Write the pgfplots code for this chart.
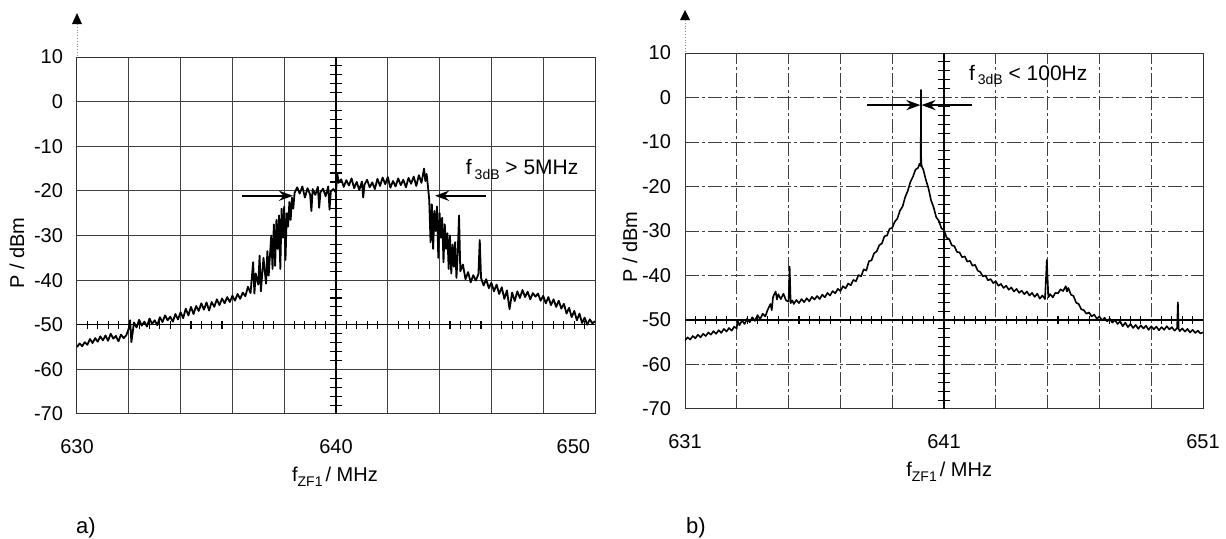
\documentclass[border=0pt]{standalone}
\usepackage{fontspec}
\setmainfont{Liberation Sans}
\usepackage{pgfplots}
\pgfplotsset{compat=1.18}
\usetikzlibrary{arrows.meta}
\pgfplotsset{
  myax/.style={
    scale only axis, width=259pt,
    ymin=-70, ymax=10,
    ytick={-70,-60,...,10},
    yticklabels={-70,-60,-50,-40,-30,-20,-10,0,10},
    axis line style={black!80, line width=0.5pt},
    major tick length=0pt, minor tick length=0pt,
    tick style={draw=none},
    grid=both,
    major grid style={black!75, line width=0.5pt},
    minor grid style={black!75, line width=0.5pt},
    tick label style={font=\fontsize{10}{12}\selectfont},
    xticklabel style={yshift=-9pt},
    yticklabel style={xshift=-3.5pt},
    label style={font=\fontsize{10}{12}\selectfont},
  },
  htick/.style={only marks, mark=-, mark size=3pt, mark options={black, line width=0.55pt}},
  vtick/.style={only marks, mark=|, mark size=2pt, mark options={black, line width=0.55pt}},
}
\newcommand{\sub}[1]{\raisebox{-2.3pt}{\fontsize{7}{8}\selectfont #1}}
\begin{document}
\begin{tikzpicture}
\useasboundingbox (0,0) rectangle (613pt,-269pt);
% ---------------- a) ----------------
\begin{axis}[myax, at={(38.5pt,-28.5pt)}, anchor=north west, height=178.5pt,
  xmin=630, xmax=650,
  xtick={630,640,650},
  xticklabels={630,640,{\llap{650\hspace{2.5pt}}}},
  minor xtick={630,632,...,650},
  xlabel={f\sub{ZF1}\kern1.5pt/ MHz},
  xlabel style={at={(axis description cs:0.498,0)}, anchor=base, yshift=-34pt},
  ylabel={P / dBm},
  ylabel style={at={(axis description cs:-0.1158,0.451)}, anchor=center},
]
\draw[black, line width=0.55pt] (axis cs:640,-70) -- (axis cs:640,10);
\draw[black, line width=0.55pt] (axis cs:630,-50) -- (axis cs:650,-50);
\addplot[htick] coordinates {
(640,-68) (640,-66) (640,-64) (640,-62) (640,-58) (640,-56) (640,-54) (640,-52) (640,-48) (640,-46) (640,-44) (640,-42)
(640,-38) (640,-36) (640,-34) (640,-32) (640,-28) (640,-26) (640,-24) (640,-22) (640,-18) (640,-16) (640,-14) (640,-12)
(640,-8) (640,-6) (640,-4) (640,-2) (640,2) (640,4) (640,6) (640,8)
};
\addplot[vtick] coordinates {
(630.4,-50) (630.8,-50) (631.2,-50) (631.6,-50) (632.4,-50) (632.8,-50) (633.2,-50) (633.6,-50)
(634.4,-50) (634.8,-50) (635.2,-50) (635.6,-50) (636.4,-50) (636.8,-50) (637.2,-50) (637.6,-50)
(638.4,-50) (638.8,-50) (639.2,-50) (639.6,-50) (640.4,-50) (640.8,-50) (641.2,-50) (641.6,-50)
(642.4,-50) (642.8,-50) (643.2,-50) (643.6,-50) (644.4,-50) (644.8,-50) (645.2,-50) (645.6,-50)
(646.4,-50) (646.8,-50) (647.2,-50) (647.6,-50) (648.4,-50) (648.8,-50) (649.2,-50) (649.6,-50)
};
\addplot[black, line width=0.9pt, line join=round] coordinates {
(630.0,-55.0) (630.1,-54.2) (630.2,-54.8) (630.3,-53.9) (630.4,-54.5) (630.5,-53.2) (630.6,-54.1) (630.7,-53.0) (630.8,-53.8) (630.9,-52.6)
(631.0,-53.5) (631.1,-52.4) (631.2,-53.6) (631.3,-52.0) (631.4,-53.1) (631.5,-52.5) (631.6,-53.7) (631.7,-52.2) (631.8,-53.0) (631.9,-52.4)
(632.0,-50.8) (632.05,-49.0) (632.1,-53.9) (632.2,-49.5) (632.3,-50.6) (632.4,-48.9) (632.5,-50.2) (632.6,-49.3) (632.7,-50.4) (632.8,-48.6)
(632.9,-49.8) (633.0,-49.0) (633.1,-50.1) (633.2,-48.3) (633.3,-49.4) (633.4,-47.9) (633.5,-49.0) (633.6,-48.2) (633.7,-49.3) (633.8,-47.6)
(633.9,-48.8) (634.0,-47.2) (634.1,-48.5) (634.2,-46.4) (634.3,-47.9) (634.4,-46.0) (634.5,-47.6) (634.6,-45.8) (634.7,-46.9) (634.8,-45.2)
(634.9,-46.6) (635.0,-45.0) (635.1,-46.8) (635.2,-44.9) (635.3,-46.0) (635.4,-44.3) (635.5,-45.6) (635.6,-44.1) (635.7,-45.2) (635.8,-43.8)
(635.9,-44.9) (636.0,-43.5) (636.1,-44.6) (636.2,-43.1) (636.3,-44.2) (636.4,-42.8) (636.5,-43.6) (636.6,-41.5) (636.7,-42.9) (636.8,-36.0)
(636.85,-43.0) (636.9,-38.5) (637.0,-41.0) (637.05,-34.5) (637.1,-42.5) (637.2,-35.0) (637.3,-40.8) (637.35,-33.5) (637.4,-39.0) (637.5,-30.0)
(637.55,-37.5) (637.6,-27.5) (637.65,-36.8) (637.7,-26.5) (637.75,-33.0) (637.8,-25.5) (637.85,-37.5) (637.9,-24.0) (637.95,-30.5) (638.0,-23.5)
(638.05,-35.5) (638.1,-25.0) (638.15,-28.0) (638.2,-22.5) (638.25,-26.5) (638.3,-21.5) (638.35,-24.0) (638.4,-20.5) (638.5,-19.2) (638.6,-20.6)
(638.7,-19.0) (638.8,-21.5) (638.9,-19.4) (639.0,-20.8) (639.05,-24.5) (639.1,-19.6) (639.2,-20.9) (639.3,-19.1) (639.35,-23.8) (639.4,-20.3)
(639.5,-19.5) (639.6,-21.2) (639.7,-19.0) (639.75,-24.2) (639.8,-20.1) (639.9,-19.6) (640.0,-20.4) (640.05,-16.0) (640.1,-18.2) (640.2,-17.4)
(640.3,-19.1) (640.4,-17.6) (640.5,-18.8) (640.6,-17.2) (640.7,-19.4) (640.8,-18.0) (640.9,-19.8) (641.0,-17.9) (641.05,-21.5) (641.1,-18.6)
(641.2,-17.5) (641.3,-19.2) (641.4,-18.1) (641.5,-19.6) (641.6,-17.3) (641.7,-18.9) (641.8,-17.0) (641.9,-18.5) (642.0,-16.9) (642.1,-19.3)
(642.2,-17.8) (642.3,-19.0) (642.4,-17.2) (642.5,-18.7) (642.6,-17.5) (642.7,-19.2) (642.8,-17.1) (642.9,-18.4) (643.0,-16.8) (643.1,-18.9)
(643.2,-16.5) (643.3,-18.2) (643.4,-15.0) (643.45,-17.8) (643.5,-16.2) (643.55,-19.0) (643.6,-22.0) (643.65,-31.5) (643.7,-23.0) (643.75,-33.0)
(643.8,-24.5) (643.85,-29.0) (643.9,-23.5) (643.95,-35.0) (644.0,-25.0) (644.05,-30.5) (644.1,-26.0) (644.15,-36.0) (644.2,-27.5) (644.25,-33.0)
(644.3,-29.5) (644.35,-37.5) (644.4,-30.0) (644.45,-38.5) (644.5,-32.0) (644.55,-37.0) (644.6,-31.5) (644.65,-39.5) (644.7,-34.0) (644.75,-25.5)
(644.8,-38.0) (644.9,-36.5) (645.0,-39.8) (645.1,-38.2) (645.2,-40.5) (645.3,-38.9) (645.4,-40.1) (645.5,-38.6) (645.55,-31.0) (645.6,-39.5)
(645.7,-41.2) (645.8,-39.8) (645.9,-41.8) (646.0,-40.6) (646.1,-42.5) (646.2,-41.0) (646.3,-43.1) (646.4,-41.6) (646.5,-44.2) (646.6,-42.3)
(646.7,-46.5) (646.8,-42.8) (646.9,-44.7) (647.0,-42.5) (647.1,-44.0) (647.2,-42.2) (647.3,-43.8) (647.4,-42.6) (647.5,-44.3) (647.6,-42.9)
(647.7,-43.7) (647.8,-43.0) (647.9,-44.6) (648.0,-43.5) (648.1,-45.2) (648.2,-43.8) (648.3,-45.6) (648.4,-44.3) (648.5,-46.0) (648.6,-44.6)
(648.7,-46.4) (648.8,-45.3) (648.9,-47.5) (649.0,-46.2) (649.1,-48.3) (649.2,-46.9) (649.3,-49.0) (649.4,-47.5) (649.5,-49.6) (649.6,-48.4)
(649.7,-50.0) (649.8,-48.8) (649.9,-49.7) (650.0,-49.2)
};
\draw[line width=1.2pt, -{Stealth[length=7pt,width=5pt]}] (axis cs:636.37,-21.1) -- (axis cs:638.34,-21.1);
\draw[line width=1.2pt, -{Stealth[length=7pt,width=5pt]}] (axis cs:645.79,-21.1) -- (axis cs:643.82,-21.1);
\node[anchor=base west, inner sep=0pt, font=\fontsize{10.5}{12}\selectfont] at (axis cs:645.0,-16.4) {f\hspace{1.5pt}\sub{3dB} \textgreater{} 5MHz};
\end{axis}
% ---------------- b) ----------------
\begin{axis}[myax, at={(342.5pt,-26.5pt)}, anchor=north west, height=178pt,
  xmin=631, xmax=651,
  xtick={631,641,651},
  xticklabels={631,641,651},
  minor xtick={631,633,...,651},
  major grid style={black!75, line width=0.5pt, dash pattern=on 7pt off 1.5pt on 1.5pt off 1.5pt},
  minor grid style={black!75, line width=0.5pt, dash pattern=on 7pt off 1.5pt on 1.5pt off 1.5pt},
  xlabel={f\sub{ZF1}\kern1.5pt/ MHz},
  xlabel style={at={(axis description cs:0.51,0)}, anchor=base, yshift=-34pt},
  ylabel={P / dBm},
  ylabel style={at={(axis description cs:-0.106,0.455)}, anchor=center},
]
\draw[black, line width=0.55pt] (axis cs:641,-70) -- (axis cs:641,10);
\draw[black, line width=0.55pt] (axis cs:631,-50) -- (axis cs:651,-50);
\addplot[htick] coordinates {
(641,-68) (641,-66) (641,-64) (641,-62) (641,-58) (641,-56) (641,-54) (641,-52) (641,-48) (641,-46) (641,-44) (641,-42)
(641,-38) (641,-36) (641,-34) (641,-32) (641,-28) (641,-26) (641,-24) (641,-22) (641,-18) (641,-16) (641,-14) (641,-12)
(641,-8) (641,-6) (641,-4) (641,-2) (641,2) (641,4) (641,6) (641,8)
};
\addplot[vtick] coordinates {
(631.4,-50) (631.8,-50) (632.2,-50) (632.6,-50) (633.4,-50) (633.8,-50) (634.2,-50) (634.6,-50)
(635.4,-50) (635.8,-50) (636.2,-50) (636.6,-50) (637.4,-50) (637.8,-50) (638.2,-50) (638.6,-50)
(639.4,-50) (639.8,-50) (640.2,-50) (640.6,-50) (641.4,-50) (641.8,-50) (642.2,-50) (642.6,-50)
(643.4,-50) (643.8,-50) (644.2,-50) (644.6,-50) (645.4,-50) (645.8,-50) (646.2,-50) (646.6,-50)
(647.4,-50) (647.8,-50) (648.2,-50) (648.6,-50) (649.4,-50) (649.8,-50) (650.2,-50) (650.6,-50)
};
\addplot[black, line width=0.8pt, line join=round] coordinates {
(631.0,-54.6) (631.1,-53.9) (631.2,-54.4) (631.3,-53.6) (631.4,-54.1) (631.5,-53.3) (631.6,-53.9) (631.7,-53.1) (631.8,-53.6) (631.9,-52.8)
(632.0,-53.3) (632.1,-52.5) (632.2,-53.1) (632.3,-52.3) (632.4,-52.9) (632.5,-52.0) (632.6,-52.6) (632.7,-51.8) (632.8,-52.4) (632.9,-51.5)
(633.0,-51.9) (633.02,-50.0) (633.1,-51.2) (633.2,-50.1) (633.3,-50.9) (633.4,-49.7) (633.5,-50.5) (633.6,-49.4) (633.7,-50.2) (633.8,-48.9)
(633.9,-49.8) (634.0,-48.6) (634.1,-49.2) (634.2,-47.6) (634.3,-46.4) (634.35,-47.8) (634.4,-44.8) (634.5,-43.6) (634.55,-45.4) (634.6,-44.2)
(634.7,-45.3) (634.8,-44.1) (634.9,-45.6) (635.0,-45.9) (635.04,-38.0) (635.08,-46.2) (635.15,-45.6) (635.2,-46.4) (635.3,-45.5) (635.4,-46.2)
(635.5,-45.3) (635.6,-46.0) (635.7,-45.1) (635.8,-45.8) (635.9,-44.8) (636.0,-45.4) (636.1,-44.6) (636.2,-45.3) (636.3,-44.3) (636.4,-44.9)
(636.5,-43.9) (636.6,-44.5) (636.7,-43.5) (636.8,-44.0) (636.9,-43.0) (637.0,-43.5) (637.1,-42.4) (637.2,-42.9) (637.3,-41.8) (637.4,-42.2)
(637.5,-41.0) (637.6,-41.3) (637.7,-39.9) (637.8,-40.2) (637.9,-38.6) (638.0,-38.9) (638.1,-36.8) (638.2,-36.6) (638.3,-35.0) (638.4,-34.6)
(638.5,-33.2) (638.6,-32.8) (638.7,-31.2) (638.8,-31.0) (638.9,-29.5) (639.0,-29.3) (639.1,-27.9) (639.2,-27.2) (639.3,-25.4) (639.4,-24.5)
(639.5,-22.4) (639.6,-21.0) (639.7,-19.0) (639.8,-17.8) (639.9,-16.2) (640.0,-15.8) (640.05,-14.9) (640.10,-15.4) (640.11,1.7) (640.12,-14.8)
(640.15,-15.6) (640.2,-16.2) (640.3,-18.5) (640.4,-20.4) (640.5,-23.1) (640.6,-24.7) (640.7,-26.9) (640.8,-27.7) (640.9,-29.4) (641.0,-29.8)
(641.1,-31.5) (641.2,-31.8) (641.3,-33.2) (641.4,-33.4) (641.5,-34.7) (641.6,-34.8) (641.7,-35.9) (641.8,-35.7) (641.9,-36.9) (642.0,-36.7)
(642.1,-37.8) (642.2,-37.6) (642.3,-38.9) (642.4,-39.2) (642.5,-40.2) (642.6,-40.0) (642.7,-41.1) (642.8,-40.8) (642.9,-41.7) (643.0,-41.3)
(643.1,-42.3) (643.2,-41.9) (643.3,-42.8) (643.4,-42.3) (643.5,-43.2) (643.6,-42.7) (643.7,-43.6) (643.8,-43.0) (643.9,-43.9) (644.0,-43.4)
(644.1,-44.2) (644.2,-43.6) (644.3,-44.5) (644.4,-43.9) (644.5,-44.8) (644.6,-44.1) (644.7,-45.2) (644.8,-44.5) (644.9,-45.3) (644.97,-36.5)
(645.03,-44.9) (645.1,-44.2) (645.2,-44.9) (645.3,-43.9) (645.4,-44.0) (645.5,-43.1) (645.6,-43.5) (645.7,-42.4) (645.75,-43.6) (645.8,-42.8)
(645.9,-44.3) (646.0,-44.6) (646.1,-46.1) (646.2,-46.4) (646.3,-47.6) (646.4,-47.8) (646.5,-48.6) (646.6,-48.3) (646.7,-49.2) (646.8,-48.8)
(646.9,-49.7) (647.0,-49.2) (647.1,-50.1) (647.2,-49.5) (647.3,-50.3) (647.4,-49.7) (647.5,-50.6) (647.6,-50.0) (647.7,-50.9) (647.8,-50.3)
(647.9,-51.4) (648.0,-50.6) (648.1,-51.6) (648.2,-50.9) (648.3,-51.8) (648.4,-51.1) (648.5,-52.0) (648.6,-51.2) (648.7,-51.9) (648.8,-51.3)
(648.9,-52.2) (649.0,-51.4) (649.1,-52.1) (649.2,-51.5) (649.3,-52.3) (649.4,-51.6) (649.5,-52.2) (649.6,-51.4) (649.7,-52.1) (649.8,-51.6)
(649.9,-52.4) (650.0,-51.8) (650.03,-46.0) (650.06,-52.0) (650.1,-52.5) (650.2,-51.9) (650.3,-52.6) (650.4,-52.0) (650.5,-52.8) (650.6,-52.2)
(650.7,-52.9) (650.8,-52.4) (650.9,-53.0) (651.0,-52.8)
};
\draw[line width=1.2pt, -{Stealth[length=7pt,width=5pt]}] (axis cs:638.03,-1.7) -- (axis cs:640.09,-1.7);
\draw[line width=1.2pt, -{Stealth[length=7pt,width=5pt]}] (axis cs:642.08,-1.7) -- (axis cs:640.13,-1.7);
\node[anchor=base west, inner sep=0pt, font=\fontsize{10.5}{12}\selectfont] at (axis cs:641.95,3.9) {f\hspace{1.5pt}\sub{3dB} \textless{} 100Hz};
\end{axis}
% top arrows
\draw[densely dotted, black!45, line width=0.4pt] (38.5pt,-12pt) -- (38.5pt,-28.5pt);
\fill (36pt,-12pt) -- (41pt,-12pt) -- (38.5pt,-6.5pt) -- cycle;
\draw[densely dotted, black!45, line width=0.4pt] (342.5pt,-10pt) -- (342.5pt,-26.5pt);
\fill (340pt,-10pt) -- (345pt,-10pt) -- (342.5pt,-5pt) -- cycle;
\node[anchor=base, font=\fontsize{11}{13}\selectfont] at (43pt,-266.5pt) {a)};
\node[anchor=base, font=\fontsize{11}{13}\selectfont] at (348pt,-266.5pt) {b)};
\end{tikzpicture}
\end{document}
